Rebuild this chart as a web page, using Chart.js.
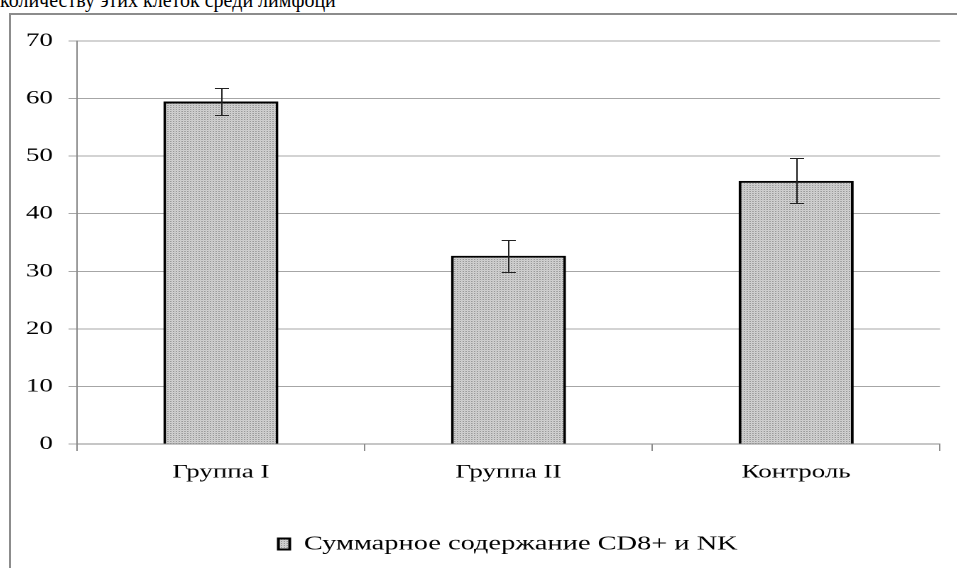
<!DOCTYPE html>
<html>
<head>
<meta charset="utf-8">
<script src="https://cdn.jsdelivr.net/npm/chart.js@4"></script>
<style>
  html, body { margin: 0; padding: 0; background: #fff; overflow: hidden; width: 957px; height: 568px; }
  #caption { position: absolute; left: 0; top: -10px; font-family: 'Liberation Serif', 'DejaVu Serif', serif; font-size: 20px; line-height: 20px; color: #000; white-space: nowrap; }
  #frame { position: absolute; left: 9px; top: 13px; width: 1000px; height: 560px; border-left: 2px solid #8c8c8c; border-top: 2px solid #8c8c8c; }
  /* исходная картинка растянута по горизонтали */
  #chart { position: absolute; left: 0; top: 0; width: 700px; height: 553px; transform: scaleX(1.42); transform-origin: 0 0; }
</style>
</head>
<body>
<div id="caption">количеству этих клеток среди лимфоци</div>
<div id="frame"><div id="chart"></div></div>
<script>
  const categories = ['Группа I', 'Группа II', 'Контроль'];
  const values = [59.5, 32.7, 45.7];
  const errors = [2.4, 2.8, 3.9];
  const seriesName = 'Суммарное содержание CD8+ и NK';
  const yMin = 0, yMax = 70, yStep = 10;

  const ctx = document.createElement('canvas');
  document.getElementById('chart').appendChild(ctx);

  // мелкий точечный узор заливки
  function dotPattern() {
    const c = document.createElement('canvas');
    c.width = 2; c.height = 2;
    const g = c.getContext('2d');
    g.fillStyle = '#ffffff';
    g.fillRect(0, 0, 2, 2);
    g.fillStyle = '#555555';
    g.fillRect(0, 0, 1, 1);
    g.fillStyle = '#b4b4b4';
    g.fillRect(1, 1, 1, 1);
    return g.createPattern(c, 'repeat');
  }
  const fill = dotPattern();

  const errorBars = {
    id: 'errorBars',
    afterDatasetsDraw(chart) {
      const y = chart.scales.y;
      const meta = chart.getDatasetMeta(0);
      const c = chart.ctx;
      c.save();
      c.strokeStyle = '#222';
      c.lineWidth = 1;
      meta.data.forEach((bar, i) => {
        const top = Math.round(y.getPixelForValue(values[i] + errors[i])) + 0.5;
        const bot = Math.round(y.getPixelForValue(values[i] - errors[i])) + 0.5;
        const x = Math.round(bar.x) + 0.5;
        c.beginPath();
        c.moveTo(x, top); c.lineTo(x, bot);
        c.moveTo(x - 5, top); c.lineTo(x + 5, top);
        c.moveTo(x - 5, bot); c.lineTo(x + 5, bot);
        c.stroke();
      });
      c.restore();
    }
  };

  const serif = "'Liberation Serif', 'DejaVu Serif', serif";
  Chart.defaults.font.family = serif;
  Chart.defaults.color = '#000';

  new Chart(ctx, {
    type: 'bar',
    data: {
      labels: categories,
      datasets: [{
        label: seriesName,
        data: values,
        backgroundColor: fill,
        borderColor: '#000',
        borderWidth: 2,
        categoryPercentage: 1,
        barPercentage: 0.4
      }]
    },
    options: {
      responsive: true,
      maintainAspectRatio: false,
      animation: false,
      devicePixelRatio: 2,
      layout: { padding: { top: 26, right: 0, bottom: 4, left: 0 } },
      plugins: {
        tooltip: { enabled: false },
        legend: {
          position: 'bottom',
          labels: { boxWidth: 8, boxHeight: 11, padding: 10, font: { size: 20, family: serif }, color: '#000' }
        }
      },
      scales: {
        x: {
          grid: { display: true, drawOnChartArea: false, drawTicks: true, tickLength: 7, color: '#8c8c8c', offset: true },
          border: { display: true, color: '#8c8c8c' },
          ticks: { font: { size: 19, family: serif }, color: '#000', padding: 10 },
          afterFit(s) { s.height = 80; }
        },
        y: {
          min: yMin, max: yMax,
          grid: { color: '#a6a6a6', tickLength: 6 },
          border: { display: true, color: '#8c8c8c' },
          ticks: { stepSize: yStep, font: { size: 19, family: serif }, color: '#000', padding: 11 },
          afterFit(s) { s.width = 46.5; }
        },
        y2: {
          position: 'right',
          display: true,
          grid: { display: false },
          border: { display: false },
          ticks: { display: false },
          afterFit(s) { s.width = 45.8; }
        }
      }
    },
    plugins: [errorBars]
  });
</script>
</body>
</html>
